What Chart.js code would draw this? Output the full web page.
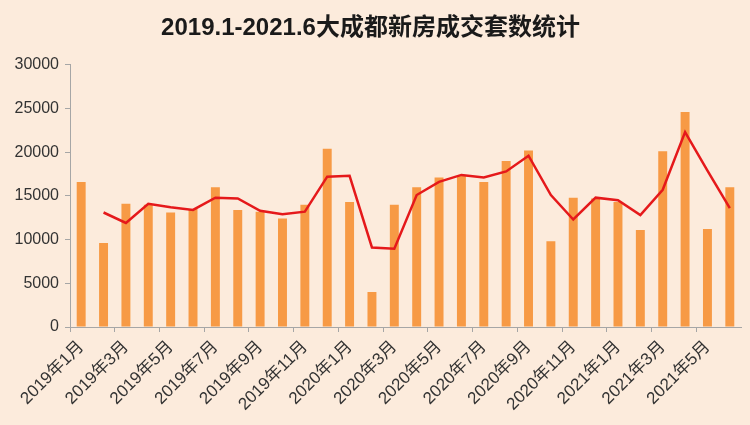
<!DOCTYPE html>
<html>
<head>
<meta charset="utf-8">
<script src="https://cdn.jsdelivr.net/npm/chart.js@4/dist/chart.umd.min.js"></script>
<style>
  html, body { margin: 0; padding: 0; background: #fcebdc; }
  #wrap { width: 750px; height: 425px; }
</style>
</head>
<body>
<div id="wrap"><canvas id="chart"></canvas></div>
<script>
const months = [
  '2019年1月','2019年2月','2019年3月','2019年4月','2019年5月','2019年6月',
  '2019年7月','2019年8月','2019年9月','2019年10月','2019年11月','2019年12月',
  '2020年1月','2020年2月','2020年3月','2020年4月','2020年5月','2020年6月',
  '2020年7月','2020年8月','2020年9月','2020年10月','2020年11月','2020年12月',
  '2021年1月','2021年2月','2021年3月','2021年4月','2021年5月','2021年6月'
];
// 成交套数 (bars)
const deals = [
  16600, 9600, 14100, 14000, 13100, 13500,
  16000, 13400, 13200, 12400, 14000, 20400,
  14300, 4000, 14000, 16000, 17100, 17300,
  16600, 19000, 20200, 9800, 14800, 14700,
  14300, 11100, 20100, 24600, 11200, 16000
];
// 移动平均 (red line)
const trend = [
  null, 13100, 11900, 14100, 13700, 13400,
  14800, 14700, 13300, 12900, 13200, 17200,
  17300, 9100, 8950, 15100, 16600, 17400,
  17100, 17800, 19600, 15100, 12300, 14800,
  14500, 12800, 15700, 22300, 17900, 13600
];
const yTicks = [0, 5000, 10000, 15000, 20000, 25000, 30000];

const fontFamily = '"Liberation Sans", "Noto Sans CJK SC", sans-serif';
const axisGrey = '#a6a6a6';

const ctx = document.getElementById('chart').getContext('2d');
new Chart(ctx, {
  data: {
    labels: months,
    datasets: [
      {
        type: 'line',
        label: '趋势',
        data: trend,
        borderColor: '#e5191b',
        borderWidth: 2.5,
        pointRadius: 0,
        tension: 0,
        order: 0
      },
      {
        type: 'bar',
        label: '成交套数',
        data: deals,
        backgroundColor: '#f79a45',
        barPercentage: 0.8,
        categoryPercentage: 0.5,
        order: 1
      }
    ]
  },
  options: {
    responsive: true,
    maintainAspectRatio: false,
    animation: false,
    layout: { padding: { left: 0, right: 9, top: 0, bottom: 0 } },
    plugins: {
      legend: { display: false },
      tooltip: { enabled: false },
      title: {
        display: true,
        text: '2019.1-2021.6大成都新房成交套数统计',
        color: '#1a1a1a',
        font: { family: fontFamily, size: 24, weight: 'bold', lineHeight: 1.2 },
        padding: { top: 14, bottom: 22 }
      }
    },
    scales: {
      x: {
        afterFit: s => { s.height = 98; },
        grid: {
          drawOnChartArea: false,
          tickLength: 5,
          color: c => (c.index % 2 === 0 ? axisGrey : 'rgba(0,0,0,0)')
        },
        border: { color: axisGrey, width: 1 },
        ticks: {
          autoSkip: false,
          maxRotation: 45,
          minRotation: 45,
          padding: 5,
          color: '#333333',
          font: { family: fontFamily, size: 17 },
          callback: (v, i) => (i % 2 === 0 ? months[i] : '')
        }
      },
      y: {
        min: 0,
        max: 30000,
        afterFit: s => { s.width = 70; },
        afterBuildTicks: s => { s.ticks = yTicks.map(v => ({ value: v })); },
        grid: { drawOnChartArea: false, tickLength: 5, color: axisGrey },
        border: { color: axisGrey, width: 1 },
        ticks: {
          padding: 6,
          color: '#333333',
          font: { family: fontFamily, size: 16 },
          callback: v => String(v)
        }
      }
    }
  }
});
</script>
</body>
</html>
